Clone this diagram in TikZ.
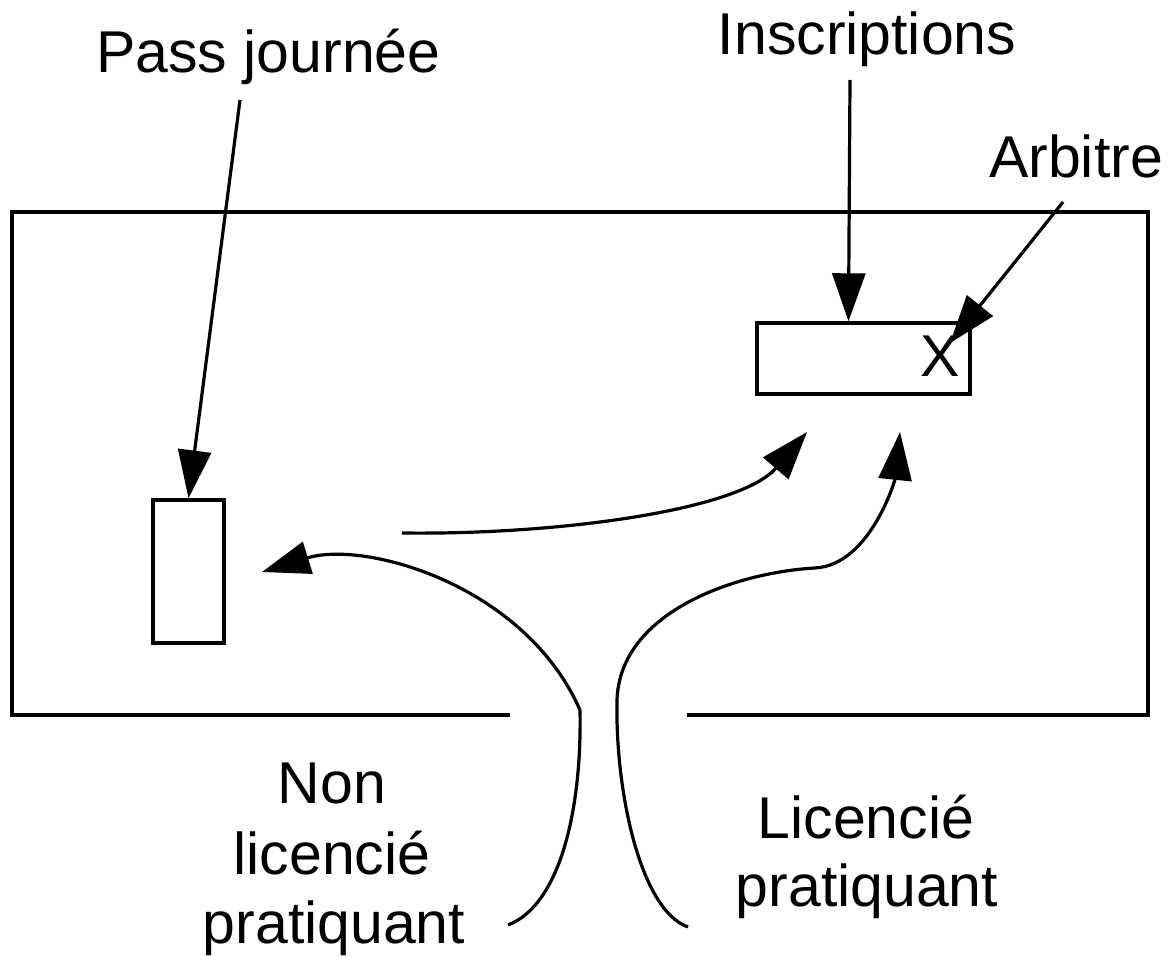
\documentclass[tikz,border=0pt]{standalone}
\usepackage{fontspec}
\setmainfont{Liberation Sans}
\usetikzlibrary{arrows.meta}
\begin{document}
\begin{tikzpicture}[x=1pt,y=-1pt,
  lbl/.style={font=\fontsize{59}{70}\selectfont, inner sep=0pt, anchor=base},
  boxnode/.style={draw, line width=3.4pt, inner sep=0pt},
  wall/.style={line width=3.4pt, line join=miter},
  arr/.style={line width=3.2pt, -{Triangle[length=48pt,width=33pt]}},
  walk/.style={line width=3.2pt}]
\useasboundingbox (0,0) rectangle (1175,957);
% outer room (open at bottom)
\coordinate (wl) at (510,715);
\coordinate (wr) at (687,715);
\draw[wall] (wl) -- (12,715) -- (12,212) -- (1148,212) -- (1148,715) -- (wr);
% boxes
\node[boxnode, minimum width=71pt, minimum height=143pt] (pass) at (188.5,571.5) {};
\node[boxnode, minimum width=213pt, minimum height=71pt] (ins) at (863.5,358.5) {};
\node[lbl] (x) at (940,377) {X};
% labels
\node[lbl] (tpass) at (268.5,73) {Pass journée};
\node[lbl] (tins) at (867,55) {Inscriptions};
\node[lbl] (tarb) at (1076,178) {Arbitre};
\node[lbl] (tnon1) at (332,803) {Non};
\node[lbl] (tnon2) at (332,874) {licencié};
\node[lbl] (tnon3) at (334,943) {pratiquant};
\node[lbl] (tlic1) at (866,838) {Licencié};
\node[lbl] (tlic2) at (867,906) {pratiquant};
% straight arrows
\coordinate (pa) at (240,100);
\coordinate (ia) at (850,80);
\coordinate (aa) at (1063,202);
\coordinate (ax) at (950,343);
\draw[arr] (pa) -- (pass.north);
\draw[arr] (ia) -- ([xshift=-15pt]ins.north);
\draw[arr] (aa) -- (ax);
% walking paths
\coordinate (c1a) at (402,533);
\coordinate (c1b) at (807,432);
\draw[arr] (c1a) .. controls (560,535) and (740,510) .. (c1b);
\coordinate (c2a) at (508,925);
\coordinate (c2k) at (580,710);
\coordinate (c2b) at (262,572);
\draw[walk] (c2a) .. controls (560,905) and (582,810) .. (c2k);
\draw[arr] (c2k) .. controls (525,585) and (365,540) .. (c2b);
\coordinate (c3a) at (688,927);
\coordinate (c3b) at (900,432);
\draw[arr] (c3a) .. controls (640,910) and (615,790) .. (617,700)
  .. controls (620,610) and (740,572) .. (815,568)
  .. controls (870,565) and (895,480) .. (c3b);
\end{tikzpicture}
\end{document}
